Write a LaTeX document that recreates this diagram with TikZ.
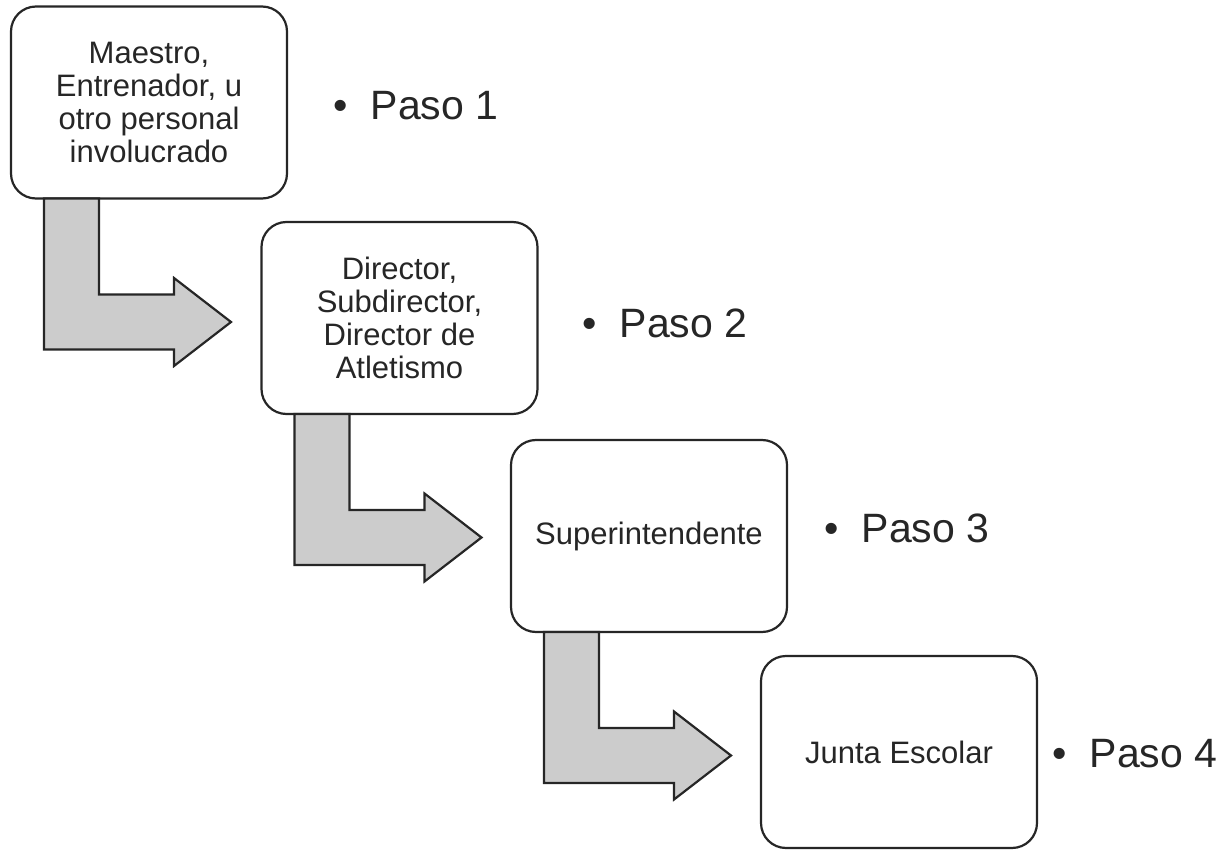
\documentclass[tikz,border=0pt]{standalone}
\usepackage{fontspec}
\setmainfont{Liberation Sans}
\usepackage{tikz}

\begin{document}
\begin{tikzpicture}[x=0.5pt,y=-0.5pt]
\tikzstyle{box}=[rectangle,rounded corners=12.5pt,minimum width=138pt,minimum height=96pt,draw=black!85,line width=1.1pt,fill=white,align=center,inner sep=2pt,outer sep=0pt,font=\fontsize{15.5}{16.5}\selectfont,text=black!85];
\tikzstyle{paso}=[anchor=base west,inner sep=0pt,font=\fontsize{20.5}{24}\selectfont,text=black!85];
\tikzstyle{bent}=[draw=black!85,fill=black!20,line width=1.1pt,line join=miter];

\useasboundingbox (0,0) rectangle (1227,850);

\node [box] (maestro) at (149,102.5) {Maestro,\\Entrenador, u\\otro personal\\involucrado};
\node [box] (director) at (399.5,318) {Director,\\Subdirector,\\Director de\\Atletismo};
\node [box] (super) at (649,536) {Superintendente};
\node [box] (junta) at (899,752) {Junta Escolar};

\node [paso] (paso1) at (333,120) {\textbullet\hspace{11.5pt}Paso 1};
\node [paso] (paso2) at (582,338) {\textbullet\hspace{11.5pt}Paso 2};
\node [paso] (paso3) at (824,542) {\textbullet\hspace{11.5pt}Paso 3};
\node [paso] (paso4) at (1052,767) {\textbullet\hspace{11.5pt}Paso 4};

\draw [bent] ([xshift=16.5pt]maestro.south west) -- ++(0,151) -- ++(130,0) -- ++(0,16.5) -- ++(57,-44) -- ++(-57,-44) -- ++(0,16.5) -- ++(-75,0) -- ++(0,-96) -- cycle;
\draw [bent] ([xshift=16.5pt]director.south west) -- ++(0,151) -- ++(130,0) -- ++(0,16.5) -- ++(57,-44) -- ++(-57,-44) -- ++(0,16.5) -- ++(-75,0) -- ++(0,-96) -- cycle;
\draw [bent] ([xshift=16.5pt]super.south west) -- ++(0,151) -- ++(130,0) -- ++(0,16.5) -- ++(57,-44) -- ++(-57,-44) -- ++(0,16.5) -- ++(-75,0) -- ++(0,-96) -- cycle;
\end{tikzpicture}
\end{document}
